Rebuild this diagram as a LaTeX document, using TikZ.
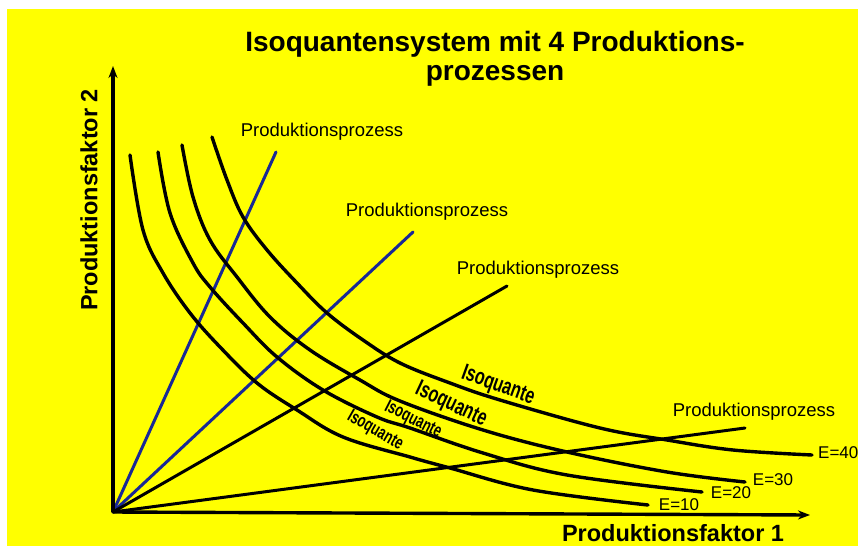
\documentclass[tikz,border=0pt]{standalone}
\usepackage{fontspec}
\setmainfont{Liberation Sans}
\newfontfamily\narrowfont[FakeStretch=0.7]{Liberation Sans}
\usetikzlibrary{arrows.meta}
\definecolor{bgyellow}{RGB}{255,255,0}
\definecolor{procblue}{RGB}{25,40,150}
\begin{document}
\begin{tikzpicture}[x=1pt,y=-1pt,
  iso/.style={line width=3.4pt, line cap=round, black},
  proc/.style={line width=3pt, line cap=round},
  axisline/.style={line width=3.4pt, -{Stealth[length=12pt,width=9pt]}},
  plabel/.style={font=\fontsize{18.5}{20}\selectfont, inner sep=0pt},
  elabel/.style={font=\fontsize{17}{18}\selectfont, inner sep=0pt},
  isolabel/.style={font=\narrowfont\bfseries\fontsize{23}{24}\selectfont, inner sep=0pt},
  isolabelsm/.style={font=\narrowfont\bfseries\fontsize{18.5}{19}\selectfont, inner sep=0pt},
  titlestyle/.style={font=\bfseries\fontsize{28}{31}\selectfont, inner sep=0pt},
  axlabel/.style={font=\bfseries\fontsize{23.5}{25}\selectfont, inner sep=0pt}
]
\useasboundingbox (0,0) rectangle (858,546);
\fill[white] (0,0) rectangle (858,546);
\fill[bgyellow] (7,9) rectangle (858,546);

% coordinates
\coordinate (O) at (113,512);
\coordinate (ytop) at (113,66);
\coordinate (xend) at (810,515);
\coordinate (p1) at (276,152);
\coordinate (p2) at (413,232);
\coordinate (p3) at (507,286);
\coordinate (p4) at (745,428);

% production processes
\draw[proc, procblue] (O) -- (p1);
\draw[proc, procblue] (O) -- (p2);
\draw[proc, black] (O) -- (p3);
\draw[proc, black] (O) -- (p4);

% isoquants
\draw[iso] plot[smooth, tension=0.6] coordinates {(130,155) (143,230) (163,273) (190,313) (220,347) (257,383) (297,410) (343,437) (410,457) (450,468) (533,490) (648,505)};
\draw[iso] plot[smooth, tension=0.6] coordinates {(158,152) (170,213) (193,263) (210,287) (243,323) (277,357) (323,390) (377,417) (410,428) (483,453) (567,475) (702,492)};
\draw[iso] plot[smooth, tension=0.6] coordinates {(182,145) (193,197) (210,240) (237,277) (270,317) (310,350) (360,380) (400,401) (483,430) (567,452) (667,472) (745,482)};
\draw[iso] plot[smooth, tension=0.6] coordinates {(212,137) (227,180) (243,217) (267,250) (297,283) (327,313) (363,340) (400,363) (450,383) (500,400) (600,428) (667,440) (733,450) (812,455)};

% axes
\draw[axisline] (O) -- (ytop);
\draw[axisline] (O) -- (xend);

% titles
\node[titlestyle] (t1) at (495,44) {Isoquantensystem mit 4 Produktions-};
\node[titlestyle] (t2) at (495,76) {prozessen};
\node[axlabel, rotate=90] (ylab) at (89,200) {Produktionsfaktor 2};
\node[axlabel] (xlab) at (673,533) {Produktionsfaktor 1};

% process labels
\node[plabel] (l1) at (322,132) {Produktionsprozess};
\node[plabel] (l2) at (427,212) {Produktionsprozess};
\node[plabel] (l3) at (538,270) {Produktionsprozess};
\node[plabel] (l4) at (754,412) {Produktionsprozess};

% isoquant labels
\node[isolabel, rotate=-20] (i1) at (498,386) {Isoquante};
\node[isolabel, rotate=-25] (i2) at (451,405) {Isoquante};
\node[isolabelsm, rotate=-27] (i3) at (413,420) {Isoquante};
\node[isolabelsm, rotate=-30] (i4) at (375,431) {Isoquante};

% E labels
\node[elabel] (e10) at (679,505) {E=10};
\node[elabel] (e20) at (731,493) {E=20};
\node[elabel] (e30) at (773,480) {E=30};
\node[elabel, anchor=west] (e40) at (818,453) {E=40};
\end{tikzpicture}
\end{document}
